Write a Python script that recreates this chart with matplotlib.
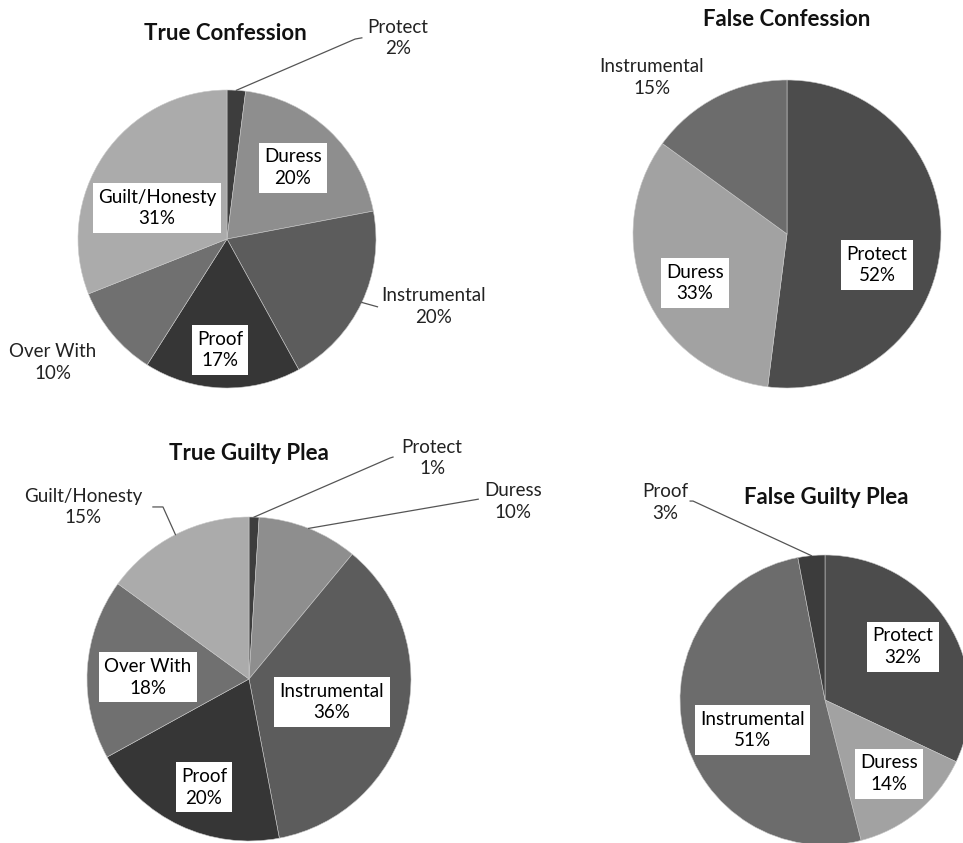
import numpy as np
import matplotlib
matplotlib.use("Agg")
import matplotlib.pyplot as plt

plt.rcParams["font.family"] = ["Lato", "DejaVu Sans"]

W, H = 963, 843

# data
tc_labels = ["Protect", "Duress", "Instrumental", "Proof", "Over With", "Guilt/Honesty"]
tc_values = [2, 20, 20, 17, 10, 31]
fc_labels = ["Protect", "Duress", "Instrumental"]
fc_values = [52, 33, 15]
tgp_labels = ["Protect", "Duress", "Instrumental", "Proof", "Over With", "Guilt/Honesty"]
tgp_values = [1, 10, 36, 20, 18, 15]
fgp_labels = ["Protect", "Duress", "Instrumental", "Proof"]
fgp_values = [32, 14, 51, 3]

SIX_GRAYS = ["#3d3d3d", "#8e8e8e", "#5c5c5c", "#363636", "#707070", "#ababab"]
FOUR_GRAYS = ["#4c4c4c", "#a2a2a2", "#6c6c6c", "#3c3c3c"]

# (title, title_xy px, center px, radius px, labels, values, colors, label layout)
# layout per slice: (dx, dy in radius units, boxed, leader bend points)
PIES = [
    ("True Confession", (225, 33), (227, 239), 149, tc_labels, tc_values, SIX_GRAYS,
     [(1.148, 1.349, False, [(0.86, 1.342), (0.905, 1.35)]),
      (0.443, 0.477, True, None),
      (1.383, -0.456, False, [(1.01, -0.455)]),
      (-0.047, -0.745, True, None),
      (-1.168, -0.826, False, None),
      (-0.470, 0.208, True, None)]),
    ("False Confession", (787, 19), (787, 234), 154, fc_labels, fc_values, FOUR_GRAYS,
     [(0.584, -0.201, True, None),
      (-0.597, -0.318, True, None),
      (-0.877, 1.019, False, None)]),
    ("True Guilty Plea", (249, 453), (249, 679), 162, tgp_labels, tgp_values, SIX_GRAYS,
     [(1.130, 1.364, False, [(0.870, 1.364), (0.889, 1.370)]),
      (1.630, 1.093, False, [(1.415, 1.110)]),
      (0.512, -0.142, True, None),
      (-0.278, -0.667, True, None),
      (-0.623, 0.012, True, None),
      (-1.025, 1.062, False, [(-0.531, 1.062), (-0.593, 1.062)])]),
    ("False Guilty Plea", (826, 497), (825, 700), 145, fgp_labels, fgp_values, FOUR_GRAYS,
     [(0.538, 0.366, True, None),
      (0.441, -0.510, True, None),
      (-0.497, -0.207, True, None),
      (-1.103, 1.359, False, [(-0.910, 1.372), (-0.930, 1.372)])]),
]

fig = plt.figure(figsize=(W / 100, H / 100), dpi=100)
fig.patch.set_facecolor("white")

for title, txy, (cx, cy), r, labels, values, colors, layout in PIES:
    ax = fig.add_axes([(cx - r) / W, 1 - (cy + r) / H, 2 * r / W, 2 * r / H])
    wedges, _ = ax.pie(values, colors=colors[:len(values)], startangle=90,
                       counterclock=False, radius=1.0,
                       wedgeprops=dict(edgecolor="#c8c8c8", linewidth=0.4))
    ax.set_xlim(-1, 1)
    ax.set_ylim(-1, 1)
    ax.set_aspect("equal")
    ax.axis("off")
    for w, lab, v, (dx, dy, boxed, leader) in zip(wedges, labels, values, layout):
        txt = f"{lab}\n{v}%"
        if boxed:
            ax.text(dx, dy, txt, ha="center", va="center", fontsize=13.5,
                    color="black", linespacing=1.35,
                    bbox=dict(boxstyle="square,pad=0.28", facecolor="white",
                              edgecolor="none"), clip_on=False)
        else:
            ax.text(dx, dy, txt, ha="center", va="center", fontsize=13.5,
                    color="#222222", linespacing=1.35, clip_on=False)
        if leader:
            mid = np.deg2rad((w.theta1 + w.theta2) / 2)
            xs = [np.cos(mid)] + [p[0] for p in leader]
            ys = [np.sin(mid)] + [p[1] for p in leader]
            ax.plot(xs, ys, color="#555555", linewidth=0.9, clip_on=False)
    fig.text(txy[0] / W, 1 - txy[1] / H, title, ha="center", va="center",
             fontsize=16, fontweight="bold", color="#111111")

fig.savefig("out.png", dpi=100)
